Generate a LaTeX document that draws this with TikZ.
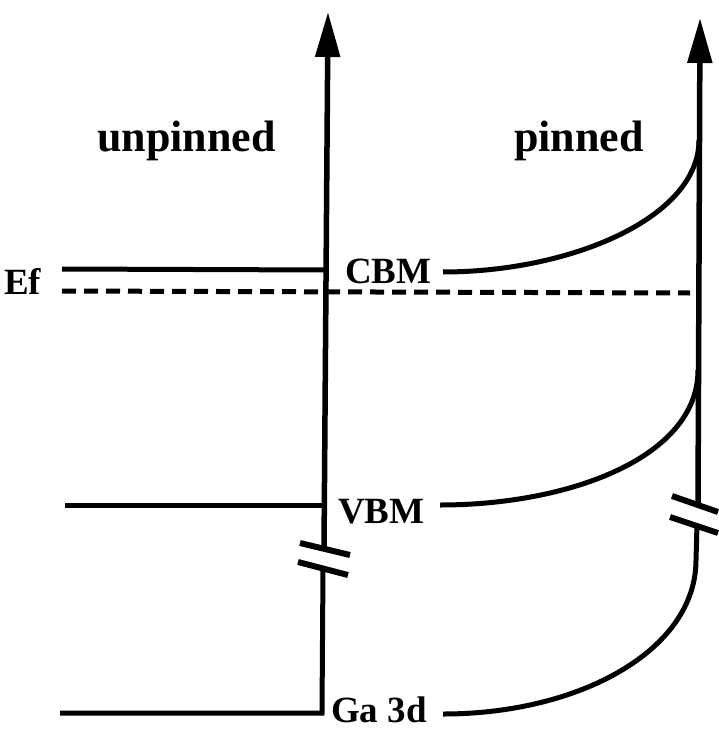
\documentclass[tikz,border=0pt]{standalone}
\usepackage{fontspec}
\setmainfont{Liberation Serif}
\usetikzlibrary{arrows.meta}
\begin{document}
\begin{tikzpicture}[x=1pt,y=-1pt,
  band/.style={line width=5pt},
  axisline/.style={line width=5.5pt},
  brk/.style={line width=6pt},
  lbl/.style={inner sep=0pt,anchor=base west,font=\fontsize{37}{40}\selectfont\bfseries},
  ttl/.style={inner sep=0pt,anchor=base west,font=\fontsize{44}{48}\selectfont\bfseries},
  fermi/.style={line width=5pt,dash pattern=on 14pt off 8pt}]
\useasboundingbox[fill=white] (0,0) rectangle (718,730);

% titles
\node[ttl] (tu) at (97,152) {unpinned};
\node[ttl] (tp) at (514,152) {pinned};

% labels
\node[lbl] (ef) at (4,294) {Ef};
\node[lbl] (cbm) at (345,283) {CBM};
\node[lbl] (vbm) at (338,523) {VBM};
\node[lbl] (ga) at (331,722) {Ga 3d};

% coordinates
\coordinate (lTop) at (328,12);
\coordinate (lBrkU) at (324,549);
\coordinate (lBrkL) at (323,567);
\coordinate (lBot) at (322,713);
\coordinate (rTop) at (700,18);
\coordinate (rBrkU) at (698,503);
\coordinate (rBrkL) at (697,524);
\coordinate (cbmL) at (62,269);
\coordinate (cbmA) at (325,270);
\coordinate (vbmL) at (65,505);
\coordinate (vbmA) at (322,505);
\coordinate (gaL) at (60,713);
\coordinate (efL) at (62,291);
\coordinate (efR) at (690,293);
\coordinate (cbmS) at (443,272);
\coordinate (cbmE) at (699,140);
\coordinate (vbmS) at (440,505);
\coordinate (vbmE) at (698,370);
\coordinate (gaS) at (443,714);
\coordinate (gaE) at (696,560);

% left axis
\draw[axisline,-{Triangle[length=45pt,width=24pt]}] (lBrkU) -- (lTop);
\draw[band,line join=miter] (gaL) -- (lBot) -- (lBrkL);
% right axis
\draw[axisline,-{Triangle[length=45pt,width=24pt]}] (rBrkU) -- (rTop);

% left levels
\draw[band] (cbmL) -- (cbmA);
\draw[band] (vbmL) -- (vbmA);
\draw[fermi] (efL) -- (efR);

% pinned bands
\draw[band] (cbmS) .. controls (570,272) and (699,218) .. (cbmE);
\draw[band] (vbmS) .. controls (570,505) and (698,457) .. (vbmE);
\draw[band] (gaS) .. controls (580,714) and (696,650) .. (gaE) -- (rBrkL);

% break marks
\draw[brk] (300,543) -- (350,555);
\draw[brk] (298,562) -- (348,575);
\draw[brk] (672,496) -- (718,512);
\draw[brk] (670,517) -- (718,533);
\end{tikzpicture}
\end{document}
